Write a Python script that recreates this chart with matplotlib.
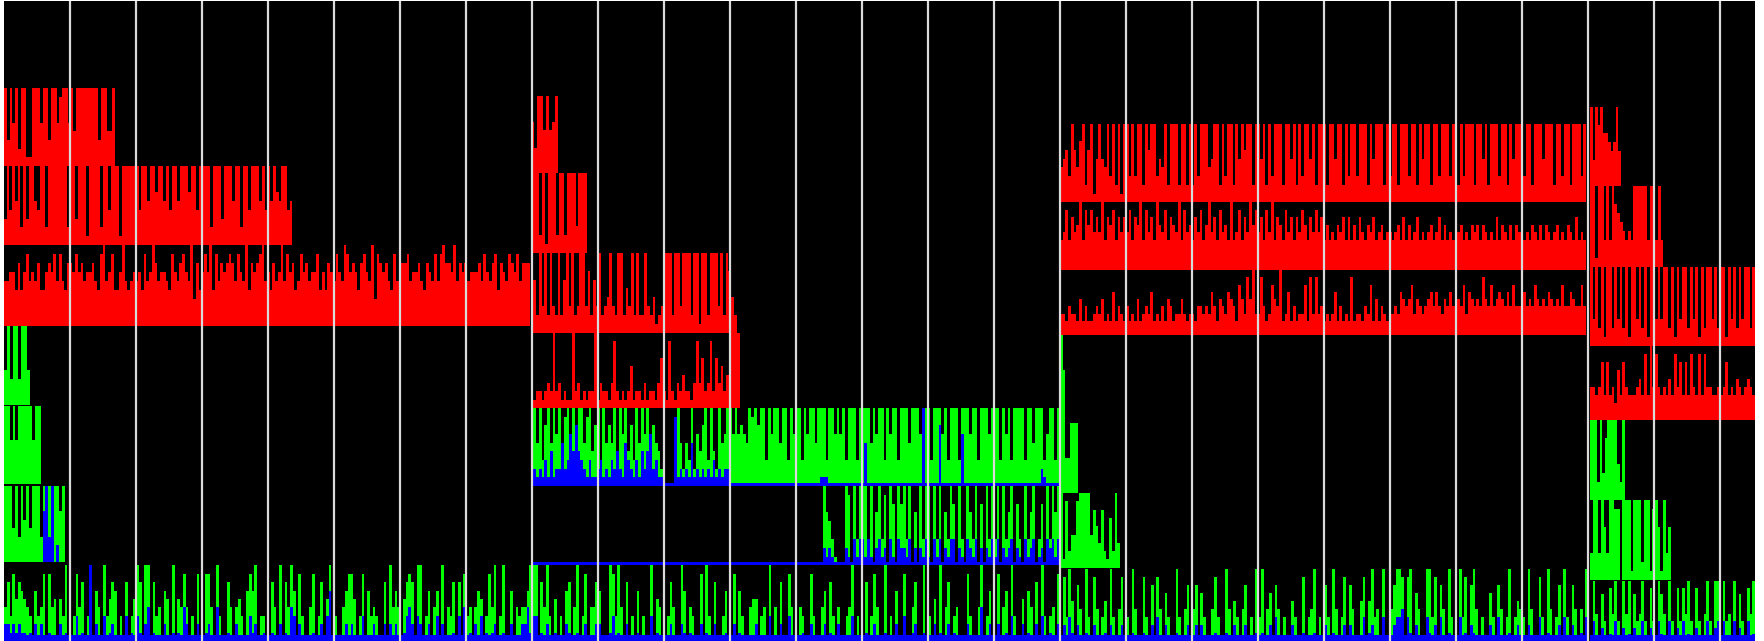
import numpy as np
import matplotlib
matplotlib.use("Agg")
import matplotlib.pyplot as plt

# one digit per bar: 0 = empty ... 9 = full band height
# bottom row (green with blue underneath), one string per segment
a_row0_green = ("473857654306348084505390" "038470390640935760307035"
                "970990734065090548403080" "088409300740453068690330"
                "074090749608300480370590" "300468850380634300709464"
                "057870990360460904370708" "340465038490390060434469")
a_row0_blue = ("221212110102020010002010" "003010090200301200003010"
               "310240100020010104200020" "012004000100200003120010"
               "010020104302000010020360" "000020200030002000202020"
               "013420320020030200010304" "010203010120010020002241")
b_row0_green = ("990749305030670490380447" "600098394070306030090540"
                "037400960430080930700360" "080630045503409040700840"
                "043008300460730400349030" "070384009030600800470090"
                "305090470340008300490360" "080460930050640709303408")
b_row0_blue = ("330102001000210010020002" "200013010020001000030100"
               "002000210100020100200010" "020100000200003000200300"
               "001002000020100200003000" "010020001000200300120010"
               "002010020100002000040020" "020010300020100203001002")
c_row0_green = ("083950740930840350930480" "309400830708406300930470"
                "470630048300940530470309" "390460740300530080349030"
                "730940380740058059340900" "479980890640099380740930"
                "093807940300630740390354" "309400830940370930740409")
c_row0_blue = ("020310200100200010200020" "001000100203002000100020"
               "020200001000100200020001" "010020300000200010001000"
               "200100020200003012000300" "023340310200031020300100"
               "030102100000200300010020" "002000300100020300200103")
d_row0_green = "0940730849309490734930830974093083849308304930990934090730849"
d_row0_blue = "0300200103002010200300200310030020301002000300230300030200301"

# segment A
a_g1_green = "9994939594999399999969"
a_g1_blue = "0000000000000069390200"
a_g2_green = "9959599999599"
a_g3_green = "493993994"
a_r1 = ("556647468565744676858547" "768675667548956844695456"
        "564856975665486578659374" "686948576787586594767895"
        "647569586745867566846476" "586598676478659387675485"
        "477856675476585897769576" "756667586578476587685777")
a_r2 = ("39495929399549929" "99999929939991999929949991999"
        "99949959969959499599969949" "9992999399959929949995" "94959659945")
a_r3 = "9395929911999599399589959499999999399449"

# segment B
b_g1_green = ("000000000000000000000000" "000000000000000000000000"
              "000000000000000000000000" "000000000000000000000000"
              "000000000096531000980939" "993906938097097939060939"
              "909390639709309639070939" "390936907309369037093969")
b_g1_blue = ("000000000000000000000000" "000000000000000000000000"
             "000000000000000000000000" "000000000000000000000000"
             "000000000021210000210313" "313102312031032213020213"
             "103130213302103213020213" "130212302103123012032313")
b_g2_green = ("395937959694895939958947" "939575939694739596937542"
              "000089525392647939429569" "969676598979939699599396"
              "993969959993996969399939" "999596993969939995999699"
              "939996939993999699399969" "993969399993995999369939")
b_g2_blue = ("121213141225236474321311" "231213242153213142462311"
             "000081212151212121312122" "000000000000000000000000"
             "000000000111000000000000" "050000000000000000000090"
             "000070000000600000000000" "000000000000000002100000")
b_r1 = ("11221232" "9" "231211" "9" "2312122" "9" "132213" "8" "21212" "5"
        "1221312213" "6" "21" "8" "2132" "4" "2213" "8" "3" "6" "23" "8"
        "2" "6" "3" "5" "2" "4" "9999")
b_r2 = ("76293929329269392399372639234932992539292293241239"
        "99299399929919929993929" "742")
b_r3 = "89929199929929993999"
b_r4 = "639959569"

# segment C
c_g1_green = "9182448999947537216293"
c_g2_green = "9722444"
c_r1 = ("332433252422343523262432" "423252343623242542335323"
        "324434364254365427538593" "384237549236242337283834"
        "232362423282332437252432" "334365457354345646435464"
        "454736545485474565464744" "464547545465454744654474")
c_r2 = ("458475694868575947684757" "584769485749658476594856"
        "475846957485649458475968" "574859476485747586475857"
        "464546574746475465745645" "545647464574545645746454"
        "456454656465454746546465" "545465464654564546547454")
c_r3 = ("456396479269159549392919" "939399296993549299929929"
        "293999459929399295969929" "959293999299592939959299"
        "929959929399399929599929" "399299939929599299399939"
        "929399929959299939929599" "939929995999299399299939")

# segment D
d_g1_green = "399396399880999199929918961936"
d_g2_green = "99929379999429"
d_r1 = "4434737342637433345383948434353847373843838443343473435434543"
d_r2 = "9392919929392919939291993939929193992939192993929919392939929"
d_r3 = "991993939765434399999399393"
d_r4 = "939796654594"

RED, GREEN, BLUE = "#ff0000", "#00ff00", "#0000ff"

# band layout: values, colour, x from, x to, y from, y to, solid floor (fraction)
bands = [
    (a_row0_green, GREEN, 0, 8, 0, 0.96, 0), (a_row0_blue, BLUE, 0, 8, 0, 0.96, 0.08),
    (a_g1_green, GREEN, 0, 0.92, 1.0, 1.97, 0), (a_g1_blue, BLUE, 0, 0.92, 1.0, 1.97, 0),
    (a_g2_green, GREEN, 0, 0.56, 2.0, 2.99, 0),
    (a_g3_green, GREEN, 0, 0.39, 3.0, 4.0, 0),
    (a_r1, RED, 0, 7.97, 4.0, 5.03, 0),
    (a_r2, RED, 0, 4.37, 5.03, 6.03, 0),
    (a_r3, RED, 0, 1.68, 6.03, 7.02, 0),

    (b_row0_green, GREEN, 8, 16, 0, 0.96, 0), (b_row0_blue, BLUE, 8, 16, 0, 0.96, 0.08),
    (b_g1_green, GREEN, 7.98, 16, 0.96, 1.97, 0), (b_g1_blue, BLUE, 7.98, 16, 0.96, 1.97, 0.04),
    (b_g2_green, GREEN, 7.98, 16, 1.97, 2.96, 0), (b_g2_blue, BLUE, 7.98, 16, 1.97, 2.96, 0.04),
    (b_r1, RED, 7.98, 11.15, 2.96, 3.91, 0),
    (b_r2, RED, 7.98, 11.1, 3.91, 4.93, 0),
    (b_r3, RED, 7.98, 8.83, 4.93, 5.94, 0),
    (b_r4, RED, 7.98, 8.39, 5.94, 6.92, 0),

    (c_row0_green, GREEN, 16, 24, 0, 0.92, 0), (c_row0_blue, BLUE, 16, 24, 0, 0.92, 0.08),
    (c_g1_green, GREEN, 16, 16.91, 0.93, 1.88, 0),
    (c_g2_green, GREEN, 16, 16.27, 1.88, 3.88, 0),
    (c_r1, RED, 16, 23.97, 3.88, 4.71, 0),
    (c_r2, RED, 16, 23.97, 4.71, 5.57, 0),
    (c_r3, RED, 16, 23.97, 5.57, 6.57, 0),

    (d_row0_green, GREEN, 24.03, 26.53, 0, 0.76, 0), (d_row0_blue, BLUE, 24.03, 26.53, 0, 0.76, 0.1),
    (d_g1_green, GREEN, 24.03, 25.26, 0.78, 1.79, 0),
    (d_g2_green, GREEN, 24.03, 24.56, 1.79, 2.81, 0),
    (d_r1, RED, 24.03, 26.53, 2.81, 3.75, 0),
    (d_r2, RED, 24.03, 26.53, 3.75, 4.75, 0),
    (d_r3, RED, 24.03, 25.14, 4.75, 5.78, 0),
    (d_r4, RED, 24.03, 24.5, 5.78, 6.78, 0),
]

fig = plt.figure(figsize=(17.64, 6.41), dpi=100)
ax = fig.add_axes([4 / 1764, 0, 1751 / 1764, 640 / 641])
ax.set_facecolor("black")

for vals, col, x0, x1, y0, y1, floor in bands:
    v = np.array([int(c) for c in vals]) / 9.0
    v = np.maximum(v, floor)
    edges = np.linspace(x0, x1, len(v) + 1)
    ax.stairs(y0 + v * (y1 - y0), edges, baseline=y0, fill=True,
              color=col, linewidth=0, antialiased=False)

ax.vlines(np.arange(1, 27), 0, 8.2, colors="#dadada", linewidth=1.6, zorder=5)

ax.set_xlim(0, 26.53)
ax.set_ylim(0, 8.127)
ax.set_xticks([])
ax.set_yticks([])
for s in ax.spines.values():
    s.set_visible(False)

fig.savefig("out.png", dpi=100)
